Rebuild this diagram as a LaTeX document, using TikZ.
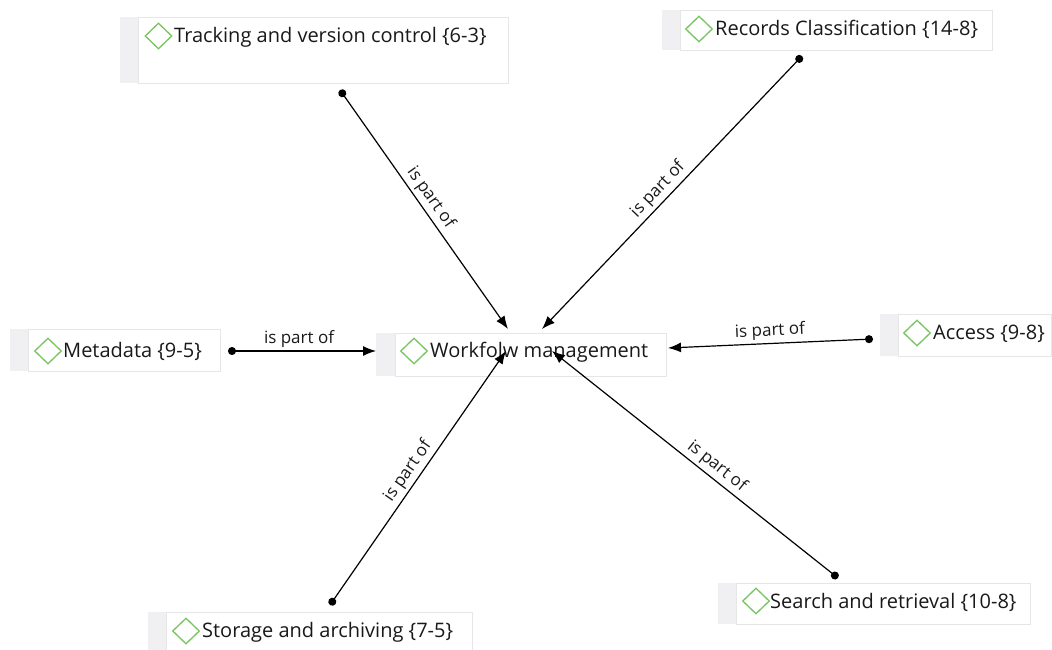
\documentclass[tikz,border=0pt]{standalone}
\usepackage{fontspec}
\setmainfont{Open Sans}
\usetikzlibrary{arrows.meta,shapes.geometric}
\definecolor{gemgreen}{RGB}{120,196,96}
\definecolor{stripgray}{RGB}{240,240,243}
\definecolor{boxline}{RGB}{230,230,233}
\definecolor{textdark}{RGB}{25,25,25}
\tikzset{
  boxframe/.style={draw=boxline, line width=0.8pt, fill=white},
  stripe/.style={fill=stripgray, draw=none},
  gem/.style={diamond, draw=gemgreen, line width=1.3pt, minimum width=27pt, minimum height=26pt, inner sep=0pt},
  lbl/.style={anchor=west, inner sep=0pt, text=textdark, font=\fontsize{20}{24}\selectfont},
  rel/.style={line width=1.2pt, {Circle[length=8pt]}-{Latex[length=13pt,width=10pt]}},
  rellbl/.style={font=\fontsize{17}{20}\selectfont, text=textdark, sloped, above, inner sep=3pt}
}
\begin{document}
\begin{tikzpicture}[x=1pt,y=-1pt]
\useasboundingbox (0,0) rectangle (1052,650);
% Tracking
\fill[stripe] (120,17) rectangle (138,83);
\node[boxframe, anchor=north west, minimum width=370pt, minimum height=66pt, inner sep=0pt] (tb) at (138,17) {};
\node[gem] (tg) at (158.5,36) {};
\node[lbl] (tt) at (174,37) {Tracking and version control \{6-3\}};
% Records
\fill[stripe] (662,10) rectangle (680,50);
\node[boxframe, anchor=north west, minimum width=312pt, minimum height=40pt, inner sep=0pt] (rb) at (680,10) {};
\node[gem] (rg) at (699,29) {};
\node[lbl] (rt) at (715,29) {Records Classification \{14-8\}};
% Metadata
\fill[stripe] (10,329) rectangle (28,371);
\node[boxframe, anchor=north west, minimum width=192pt, minimum height=42pt, inner sep=0pt] (mb) at (28,329) {};
\node[gem] (mg) at (48,351) {};
\node[lbl] (mt) at (63,351) {Metadata \{9-5\}};
% Workflow
\fill[stripe] (376,333) rectangle (395,376);
\node[boxframe, anchor=north west, minimum width=271pt, minimum height=43pt, inner sep=0pt] (wb) at (395,333) {};
\node[gem] (wg) at (414,351) {};
\node[lbl] (wt) at (430,352) {Workfolw management};
% Access
\fill[stripe] (880,314) rectangle (898,356);
\node[boxframe, anchor=north west, minimum width=153pt, minimum height=42pt, inner sep=0pt] (ab) at (898,314) {};
\node[gem] (ag) at (917,333) {};
\node[lbl] (at) at (933,334) {Access \{9-8\}};
% Storage
\fill[stripe] (148,612) rectangle (166,652);
\node[boxframe, anchor=north west, minimum width=306pt, minimum height=40pt, inner sep=0pt] (sb) at (166,612) {};
\node[gem] (sg) at (186,631) {};
\node[lbl] (st) at (202,632) {Storage and archiving \{7-5\}};
% Search
\fill[stripe] (718,583) rectangle (736,624);
\node[boxframe, anchor=north west, minimum width=294pt, minimum height=41pt, inner sep=0pt] (qb) at (736,583) {};
\node[gem] (qg) at (756,601) {};
\node[lbl] (qt) at (770,602) {Search and retrieval \{10-8\}};
% connector end points
\coordinate (t-o) at (340,90);
\coordinate (t-i) at (508,329);
\coordinate (r-o) at (802,56);
\coordinate (r-i) at (542,329);
\coordinate (m-o) at (228,351);
\coordinate (m-i) at (376,351);
\coordinate (a-o) at (873,339);
\coordinate (a-i) at (668,348);
\coordinate (s-o) at (330,605);
\coordinate (s-i) at (506,351);
\coordinate (q-o) at (838,578);
\coordinate (q-i) at (552,351);
% connectors
\draw[rel] (t-o) -- node[rellbl, pos=0.48] {is part of} (t-i);
\draw[rel] (r-o) -- node[rellbl, pos=0.52] {is part of} (r-i);
\draw[rel] (m-o) -- node[rellbl, pos=0.48] {is part of} (m-i);
\draw[rel] (a-o) -- node[rellbl, pos=0.5] {is part of} (a-i);
\draw[rel] (s-o) -- node[rellbl, pos=0.5] {is part of} (s-i);
\draw[rel] (q-o) -- node[rellbl, pos=0.45] {is part of} (q-i);
\end{tikzpicture}
\end{document}
